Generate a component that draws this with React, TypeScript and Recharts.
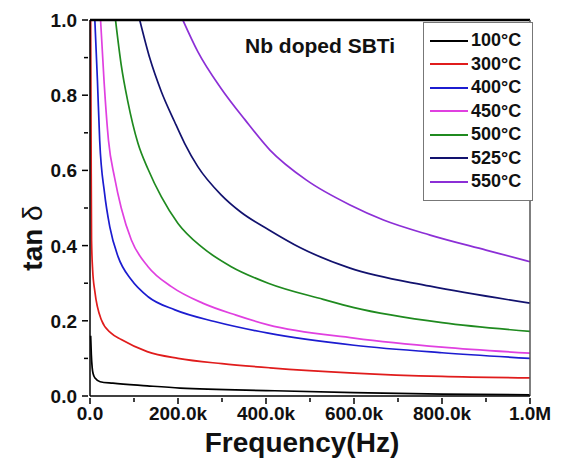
import { LineChart, Line, XAxis, YAxis, ReferenceLine } from "recharts"

type Pt = { f: number; t: number }

// tan delta vs frequency (Hz)
const t100: Pt[] = [
  { f: 1500, t: 0.16 }, { f: 3000, t: 0.11 }, { f: 5000, t: 0.075 }, { f: 7000, t: 0.06 },
  { f: 12000, t: 0.047 }, { f: 23000, t: 0.038 }, { f: 52000, t: 0.034 }, { f: 130000, t: 0.027 },
  { f: 205000, t: 0.021 }, { f: 420000, t: 0.014 }, { f: 600000, t: 0.009 }, { f: 800000, t: 0.005 },
  { f: 1000000, t: 0.003 },
]
const t300: Pt[] = [
  { f: 1500, t: 1.0 }, { f: 2500, t: 0.68 }, { f: 3500, t: 0.415 }, { f: 6000, t: 0.335 },
  { f: 11000, t: 0.278 }, { f: 26000, t: 0.202 }, { f: 48000, t: 0.167 }, { f: 71000, t: 0.15 },
  { f: 130000, t: 0.118 }, { f: 200000, t: 0.1 }, { f: 300000, t: 0.086 }, { f: 409000, t: 0.075 },
  { f: 600000, t: 0.061 }, { f: 800000, t: 0.052 }, { f: 1000000, t: 0.048 },
]
const t400: Pt[] = [
  { f: 11000, t: 1.0 }, { f: 17000, t: 0.836 }, { f: 22000, t: 0.68 }, { f: 33000, t: 0.54 },
  { f: 45000, t: 0.45 }, { f: 64000, t: 0.37 }, { f: 94000, t: 0.309 }, { f: 132000, t: 0.264 },
  { f: 193000, t: 0.229 }, { f: 283000, t: 0.198 }, { f: 405000, t: 0.167 }, { f: 600000, t: 0.135 },
  { f: 800000, t: 0.115 }, { f: 1000000, t: 0.1 },
]
const t450: Pt[] = [
  { f: 24000, t: 1.0 }, { f: 32000, t: 0.836 }, { f: 42000, t: 0.68 }, { f: 56000, t: 0.58 },
  { f: 71000, t: 0.5 }, { f: 94000, t: 0.415 }, { f: 132000, t: 0.344 }, { f: 185000, t: 0.291 },
  { f: 256000, t: 0.247 }, { f: 332000, t: 0.215 }, { f: 405000, t: 0.189 }, { f: 600000, t: 0.154 },
  { f: 800000, t: 0.13 }, { f: 1000000, t: 0.114 },
]
const t500: Pt[] = [
  { f: 58000, t: 1.0 }, { f: 71000, t: 0.88 }, { f: 86000, t: 0.783 }, { f: 109000, t: 0.672 },
  { f: 132000, t: 0.603 }, { f: 162000, t: 0.53 }, { f: 200000, t: 0.459 }, { f: 253000, t: 0.397 },
  { f: 321000, t: 0.344 }, { f: 405000, t: 0.3 }, { f: 530000, t: 0.257 }, { f: 600000, t: 0.235 },
  { f: 800000, t: 0.195 }, { f: 1000000, t: 0.172 },
]
const t525: Pt[] = [
  { f: 113000, t: 1.0 }, { f: 136000, t: 0.898 }, { f: 162000, t: 0.81 }, { f: 192000, t: 0.73 },
  { f: 215000, t: 0.672 }, { f: 245000, t: 0.61 }, { f: 298000, t: 0.535 }, { f: 344000, t: 0.488 },
  { f: 405000, t: 0.443 }, { f: 477000, t: 0.395 }, { f: 591000, t: 0.34 }, { f: 773000, t: 0.292 },
  { f: 1000000, t: 0.247 },
]
const t550: Pt[] = [
  { f: 211000, t: 1.0 }, { f: 245000, t: 0.916 }, { f: 298000, t: 0.818 }, { f: 352000, t: 0.735 },
  { f: 409000, t: 0.654 }, { f: 492000, t: 0.574 }, { f: 591000, t: 0.508 }, { f: 667000, t: 0.468 },
  { f: 773000, t: 0.428 }, { f: 900000, t: 0.388 }, { f: 1000000, t: 0.357 },
]

const names = ["100°C", "300°C", "400°C", "450°C", "500°C", "525°C", "550°C"]
const colors = ["#000000", "#e01c1c", "#1c1cd0", "#e040e0", "#1f8a1f", "#12126e", "#8c2fd6"]
const seriesData = [t100, t300, t400, t450, t500, t525, t550]

const xTicks = [0, 100000, 200000, 300000, 400000, 500000, 600000, 700000, 800000, 900000, 1000000]
const yTicks = [0, 0.1, 0.2, 0.3, 0.4, 0.5, 0.6, 0.7, 0.8, 0.9, 1.0]

const FONT = "'Liberation Sans', Arial, sans-serif"

const fmtX = (v: number) => {
  if (v === 0) return "0.0"
  if (v >= 1000000) return (v / 1000000).toFixed(1) + "M"
  return (v / 1000).toFixed(1) + "k"
}

const XTick = (props: any) => {
  const { x, y, payload } = props
  const v = payload.value
  const major = Math.round(v / 100000) % 2 === 0
  return (
    <g>
      <line x1={x} x2={x} y1={y} y2={y + (major ? 6 : 4)} stroke="#000" strokeWidth={1.5} />
      {major && (
        <text x={x} y={y + 22} textAnchor="middle" fontFamily={FONT} fontWeight="bold" fontSize={19} fill="#111">
          {fmtX(v)}
        </text>
      )}
    </g>
  )
}

const YTick = (props: any) => {
  const { x, y, payload } = props
  const v = payload.value
  const major = Math.round(v * 10) % 2 === 0
  return (
    <g>
      <line x1={x} x2={x - (major ? 6 : 4)} y1={y} y2={y} stroke="#000" strokeWidth={1.5} />
      {major && (
        <text x={x - 11} y={y + 7} textAnchor="end" fontFamily={FONT} fontWeight="bold" fontSize={19} fill="#111">
          {v.toFixed(1)}
        </text>
      )}
    </g>
  )
}

const YLabel = () => (
  <text x={42} y={238} transform="rotate(-90 42 238)" textAnchor="middle" fontFamily={FONT} fontSize={28} fill="#111">
    <tspan fontWeight="bold">tan </tspan>
    <tspan>δ</tspan>
  </text>
)

const XLabel = () => (
  <text x={302} y={452} textAnchor="middle" fontFamily={FONT} fontWeight="bold" fontSize={28} fill="#111">
    Frequency(Hz)
  </text>
)

export default function App() {
  return (
    <div style={{ position: "fixed", left: 0, top: 0, width: 561, height: 469, background: "#fff" }}>
      <LineChart width={561} height={469} margin={{ top: 20, right: 31, left: 0, bottom: 0 }}>
        <XAxis
          dataKey="f"
          type="number"
          domain={[0, 1000000]}
          ticks={xTicks}
          interval={0}
          height={73}
          tickSize={0}
          tickLine={false}
          axisLine={{ stroke: "#000", strokeWidth: 1.5 }}
          tick={<XTick />}
          label={{ content: () => <XLabel /> }}
        />
        <YAxis
          type="number"
          domain={[0, 1]}
          ticks={yTicks}
          interval={0}
          width={90}
          tickSize={0}
          tickLine={false}
          allowDataOverflow
          axisLine={{ stroke: "#000", strokeWidth: 1.5 }}
          tick={<YTick />}
          label={{ content: () => <YLabel /> }}
        />
        {seriesData.map((d, i) => (
          <Line
            key={names[i]}
            data={d}
            dataKey="t"
            name={names[i]}
            type="monotone"
            stroke={colors[i]}
            strokeWidth={1.7}
            dot={false}
            isAnimationActive={false}
          />
        ))}
        <ReferenceLine y={1} stroke="#000" strokeWidth={2.5} />
        <ReferenceLine x={1000000} stroke="#555" strokeWidth={1.5} />
      </LineChart>

      <div
        style={{
          position: "absolute",
          left: 245,
          top: 34,
          fontFamily: FONT,
          fontWeight: "bold",
          fontSize: 21,
          color: "#111",
          whiteSpace: "nowrap",
        }}
      >
        Nb doped SBTi
      </div>

      <div
        style={{
          position: "absolute",
          left: 423,
          top: 22,
          width: 108,
          border: "1px solid #777",
          background: "#fff",
          padding: "6px 0",
          boxSizing: "content-box",
        }}
      >
        {names.map((n, i) => (
          <div key={n} style={{ display: "flex", alignItems: "center", height: 23.5 }}>
            <div style={{ width: 38, height: 0, borderTop: `2px solid ${colors[i]}`, marginLeft: 6, marginRight: 3 }} />
            <span style={{ fontFamily: FONT, fontWeight: "bold", fontSize: 18, color: "#111", whiteSpace: "nowrap" }}>{n}</span>
          </div>
        ))}
      </div>
    </div>
  )
}
